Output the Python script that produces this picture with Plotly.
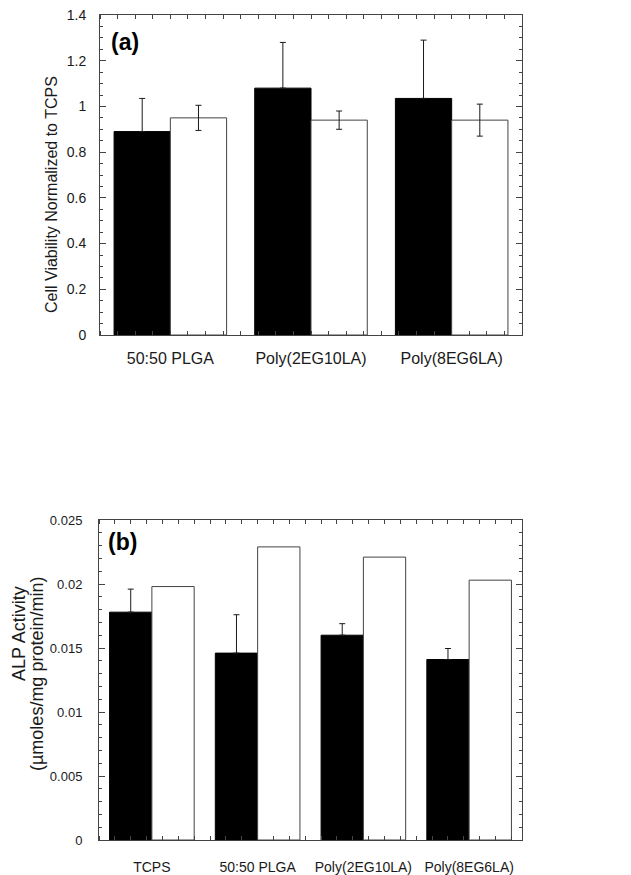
import plotly.graph_objects as go

# ---- data ----
cat_a = ["50:50 PLGA", "Poly(2EG10LA)", "Poly(8EG6LA)"]
a_black = [0.89, 1.08, 1.035]
a_black_err = [0.145, 0.20, 0.255]
a_white = [0.95, 0.94, 0.94]
a_white_err = [0.055, 0.04, 0.07]

cat_b = ["TCPS", "50:50 PLGA", "Poly(2EG10LA)", "Poly(8EG6LA)"]
b_black = [0.0178, 0.0146, 0.0160, 0.0141]
b_black_err = [0.0018, 0.0030, 0.0009, 0.00086]
b_white = [0.0198, 0.0229, 0.0221, 0.0203]

a_ticks = [0, 0.2, 0.4, 0.6, 0.8, 1, 1.2, 1.4]
a_ticktext = ["0", "0.2", "0.4", "0.6", "0.8", "1", "1.2", "1.4"]
b_ticks = [0, 0.005, 0.01, 0.015, 0.02, 0.025]
b_ticktext = ["0", "0.005", "0.01", "0.015", "0.02", "0.025"]

FONT = "Liberation Sans, Arial, sans-serif"
INK = "#1a1a1a"
EDGE = "#444444"

xa = list(range(len(cat_a)))
xb = list(range(len(cat_b)))

fig = go.Figure()

err_style = dict(type="data", color=INK, thickness=1, width=3)

fig.add_trace(go.Bar(x=xa, y=a_black, marker=dict(color="black", line=dict(color="black", width=1)),
                     error_y=dict(array=a_black_err, arrayminus=[0] * len(a_black_err), symmetric=False, **err_style),
                     xaxis="x", yaxis="y", showlegend=False))
fig.add_trace(go.Bar(x=xa, y=a_white, marker=dict(color="white", line=dict(color=EDGE, width=1)),
                     error_y=dict(array=a_white_err, **err_style), xaxis="x", yaxis="y", showlegend=False))
fig.add_trace(go.Bar(x=xb, y=b_black, marker=dict(color="black", line=dict(color="black", width=1)),
                     error_y=dict(array=b_black_err, arrayminus=[0] * len(b_black_err), symmetric=False, **err_style),
                     xaxis="x2", yaxis="y2", showlegend=False))
fig.add_trace(go.Bar(x=xb, y=b_white, marker=dict(color="white", line=dict(color=EDGE, width=1)),
                     xaxis="x2", yaxis="y2", showlegend=False))

W, H = 631, 875
OX, OY = 8, 8  # page body offset of the rendered figure

def px(x):
    return (x - OX) / W
def py(y):
    return (H - (y - OY)) / H
def xd(l, r):
    return [px(l), px(r)]
def yd(top, bottom):
    return [py(bottom), py(top)]

axis_common = dict(showline=True, linecolor=EDGE, linewidth=1, mirror="ticks",
                   showgrid=False, zeroline=False, tickcolor=EDGE, automargin=False,
                   ticklabeloverflow="allow")

fig.update_layout(
    template="none",
    width=W, height=H, autosize=False,
    margin=dict(l=0, r=0, t=0, b=0, pad=0),
    paper_bgcolor="white", plot_bgcolor="white",
    barmode="group", bargap=0.2, bargroupgap=0,
    font=dict(family=FONT, color=INK),
    xaxis=dict(domain=xd(100, 522), anchor="y", range=[-0.5, len(cat_a) - 0.5],
               tickmode="array", tickvals=xa, ticktext=cat_a, ticks="",
               tickfont=dict(size=16, family=FONT, color=INK), ticklabelstandoff=9,
               minor=dict(ticks="inside", tick0=-0.5, dtick=0.125, ticklen=4, tickcolor=EDGE),
               **axis_common),
    yaxis=dict(domain=yd(15, 335), anchor="x", range=[0, 1.4],
               tickmode="array", tickvals=a_ticks, ticktext=a_ticktext,
               ticks="inside", ticklen=6,
               tickfont=dict(size=14, family=FONT, color=INK), ticklabelstandoff=10,
               minor=dict(ticks="inside", dtick=0.05, ticklen=3, tickcolor=EDGE),
               **axis_common),
    xaxis2=dict(domain=xd(99, 522), anchor="y2", range=[-0.5, len(cat_b) - 0.5],
                tickmode="array", tickvals=xb, ticktext=cat_b, ticks="",
                tickfont=dict(size=14, family=FONT, color=INK), ticklabelstandoff=14,
                minor=dict(ticks="inside", tick0=-0.5, dtick=0.15, ticklen=4, tickcolor=EDGE),
                **axis_common),
    yaxis2=dict(domain=yd(520, 840), anchor="x2", range=[0, 0.025],
                tickmode="array", tickvals=b_ticks, ticktext=b_ticktext,
                ticks="inside", ticklen=6,
                tickfont=dict(size=13, family=FONT, color=INK), ticklabelstandoff=13,
                minor=dict(ticks="inside", dtick=0.001, ticklen=3, tickcolor=EDGE),
                **axis_common),
)

annotations = [
    dict(text="Cell Viability Normalized to TCPS", x=px(51), y=py(195), xref="paper", yref="paper",
         textangle=-90, showarrow=False, font=dict(size=16, family=FONT, color=INK),
         xanchor="center", yanchor="middle"),
    dict(text="ALP Activity", x=px(19), y=py(634), xref="paper", yref="paper",
         textangle=-90, showarrow=False, font=dict(size=18, family=FONT, color=INK),
         xanchor="center", yanchor="middle"),
    dict(text="(µmoles/mg protein/min)", x=px(37), y=py(674), xref="paper", yref="paper",
         textangle=-90, showarrow=False, font=dict(size=18, family=FONT, color=INK),
         xanchor="center", yanchor="middle"),
    dict(text="<b>(a)</b>", x=px(109), y=py(42), xref="paper", yref="paper",
         showarrow=False, font=dict(size=23, family=FONT, color="black"),
         xanchor="left", yanchor="middle"),
    dict(text="<b>(b)</b>", x=px(106), y=py(542), xref="paper", yref="paper",
         showarrow=False, font=dict(size=23, family=FONT, color="black"),
         xanchor="left", yanchor="middle"),
]
fig.update_layout(annotations=annotations)

fig.write_html("out.html")
